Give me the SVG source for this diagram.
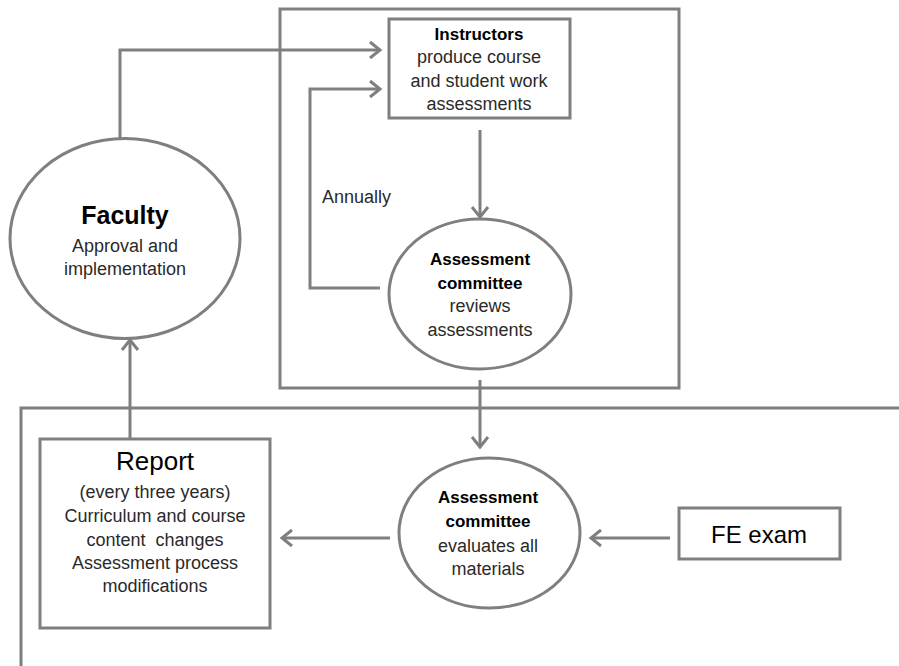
<svg xmlns="http://www.w3.org/2000/svg" width="899" height="666" viewBox="0 0 899 666">
<defs>
<marker id="arr" markerUnits="userSpaceOnUse" markerWidth="20" markerHeight="20" refX="12" refY="10" orient="auto">
<path d="M2,2 L12,10 L2,18" fill="none" stroke="#7f7f7f" stroke-width="3"/>
</marker>
</defs>
<style>
.s{fill:none;stroke:#7f7f7f;stroke-width:3}
.n{fill:#fff;stroke:#7f7f7f;stroke-width:3}
.c{stroke:#7f7f7f;stroke-width:3;fill:none;marker-end:url(#arr)}
text{font-family:"Liberation Sans",Arial,sans-serif;text-anchor:middle;fill:#2a2a2a}
.b{font-weight:bold;fill:#000}
</style>
<rect width="899" height="666" fill="#fff"/>
<g id="containers">
<rect class="s" x="280" y="9" width="399" height="379"/>
<path class="s" d="M21,666 L21,408 L899,408"/>
</g>
<g id="connectors">
<path class="c" d="M120,139 L120,50 L380,50"/>
<path class="c" d="M380,288 L310,288 L310,89 L380,89"/>
<path class="c" d="M480,130 L480,217"/>
<path class="c" d="M480,380 L480,447"/>
<path class="c" d="M670,538 L591,538"/>
<path class="c" d="M390,538 L282,538"/>
<path class="c" d="M130,439 L130,340"/>
<text x="322" y="203" style="text-anchor:start;font-size:18px">Annually</text>
</g>
<g id="faculty">
<ellipse class="n" cx="125" cy="238.5" rx="115" ry="100"/>
<text x="125" y="224" class="b" style="font-size:25px">Faculty</text>
<text x="125" y="252" style="font-size:18px">Approval and</text>
<text x="125" y="275" style="font-size:18px">implementation</text>
</g>
<g id="instructors">
<rect class="n" x="389" y="19" width="181" height="99"/>
<text x="479" y="40" class="b" style="font-size:17px">Instructors</text>
<text x="479" y="63" style="font-size:18px">produce course</text>
<text x="479" y="87" style="font-size:18px">and student work</text>
<text x="479" y="110" style="font-size:18px">assessments</text>
</g>
<g id="reviews">
<ellipse class="n" cx="480" cy="294" rx="91" ry="75"/>
<text x="480" y="265" class="b" style="font-size:17px">Assessment</text>
<text x="480" y="289" class="b" style="font-size:17px">committee</text>
<text x="480" y="312" style="font-size:18px">reviews</text>
<text x="480" y="336" style="font-size:18px">assessments</text>
</g>
<g id="evaluates">
<ellipse class="n" cx="489.5" cy="533" rx="90.5" ry="75"/>
<text x="488" y="503" class="b" style="font-size:17px">Assessment</text>
<text x="488" y="527" class="b" style="font-size:17px">committee</text>
<text x="488" y="552" style="font-size:18px">evaluates all</text>
<text x="488" y="575" style="font-size:18px">materials</text>
</g>
<g id="report">
<rect class="n" x="40" y="439" width="230" height="189"/>
<text x="155" y="470" style="font-size:26px;fill:#000">Report</text>
<text x="155" y="498" style="font-size:18px">(every three years)</text>
<text x="155" y="522" style="font-size:18px">Curriculum and course</text>
<text x="155" y="546" style="font-size:18px;white-space:pre">content  changes</text>
<text x="155" y="569" style="font-size:18px">Assessment process</text>
<text x="155" y="592" style="font-size:18px">modifications</text>
</g>
<g id="fe">
<rect class="n" x="679" y="508" width="161" height="51"/>
<text x="759" y="543" style="font-size:24px;fill:#000">FE exam</text>
</g>
</svg>
